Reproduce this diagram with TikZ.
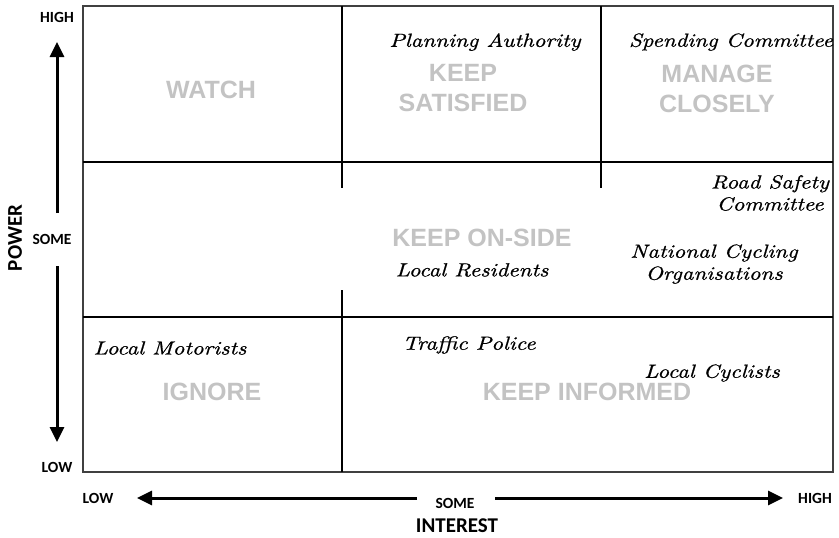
\documentclass[tikz,border=0pt]{standalone}
\usepackage{fontspec}
\usetikzlibrary{arrows.meta}
\newfontfamily\greyfont{Liberation Sans}
\newfontfamily\axisfont{Carlito}
\newfontfamily\handfont{lmroman10-italic.otf}[FakeStretch=1.2,FakeBold=0.8]
\definecolor{lbl}{HTML}{C3C3C3}
\tikzset{
  grid/.style={line width=1.8pt, black},
  frame/.style={line width=1.3pt, black!75},
  axisarrow/.style={line width=3pt, -{Triangle[length=15pt,width=14pt]}},
  quad/.style={font=\greyfont\bfseries\fontsize{25}{30}\selectfont, text=lbl, align=center, inner sep=0pt},
  hand/.style={font=\handfont\fontsize{19}{22}\selectfont, align=center, inner sep=0pt},
  axlbl/.style={font=\axisfont\bfseries\fontsize{15.5}{17}\selectfont, inner sep=0pt},
  axtitle/.style={font=\axisfont\bfseries\fontsize{21}{24}\selectfont, inner sep=0pt}
}
\begin{document}
\begin{tikzpicture}[x=1pt,y=-1pt]
\useasboundingbox (0,0) rectangle (839,538);
% frame and grid
\draw[frame] (83,6) rectangle (833,472);
\draw[grid] (83,162) -- (833,162);
\draw[grid] (83,317) -- (833,317);
\draw[grid] (342,6) -- (342,188);
\draw[grid] (342,290) -- (342,472);
\draw[grid] (601,6) -- (601,188);
% quadrant labels
\node[quad] (watch) at (211,90) {WATCH};
\node[quad] (sat) at (463,88) {KEEP\\SATISFIED};
\node[quad] (man) at (717,89) {MANAGE\\CLOSELY};
\node[quad] (onside) at (482,238) {KEEP ON-SIDE};
\node[quad] (ignore) at (212,392) {IGNORE};
\node[quad] (inf) at (587,392) {KEEP INFORMED};
% stakeholders
\node[hand] (pa) at (485,42) {Planning Authority};
\node[hand] (sc) at (731,42) {Spending Committee};
\node[hand] (rs) at (770,193) {Road Safety\\Committee};
\node[hand] (nc) at (714,264) {National Cycling\\Organisations};
\node[hand] (lr) at (472,270) {Local Residents};
\node[hand] (lm) at (170,348) {Local Motorists};
\node[hand] (tp) at (469,345) {Traffic Police};
\node[hand] (lc) at (712,373) {Local Cyclists};
% power axis
\node[axlbl] (ph) at (57,17) {HIGH};
\node[axlbl] (ps) at (52,239) {SOME};
\node[axlbl] (pl) at (57,467) {LOW};
\node[axtitle, rotate=90] (power) at (15,238) {POWER};
\coordinate (pu0) at (57,213);
\coordinate (pu1) at (57,42);
\coordinate (pd0) at (57,266);
\coordinate (pd1) at (57,442);
\draw[axisarrow] (pu0) -- (pu1);
\draw[axisarrow] (pd0) -- (pd1);
% interest axis
\node[axlbl] (il) at (98,498) {LOW};
\node[axlbl] (is) at (455,503) {SOME};
\node[axlbl] (ih) at (815,498) {HIGH};
\node[axtitle] (interest) at (457,526) {INTEREST};
\coordinate (il0) at (417,498);
\coordinate (il1) at (137,498);
\coordinate (ir0) at (495,498);
\coordinate (ir1) at (783,498);
\draw[axisarrow] (il0) -- (il1);
\draw[axisarrow] (ir0) -- (ir1);
\end{tikzpicture}
\end{document}
